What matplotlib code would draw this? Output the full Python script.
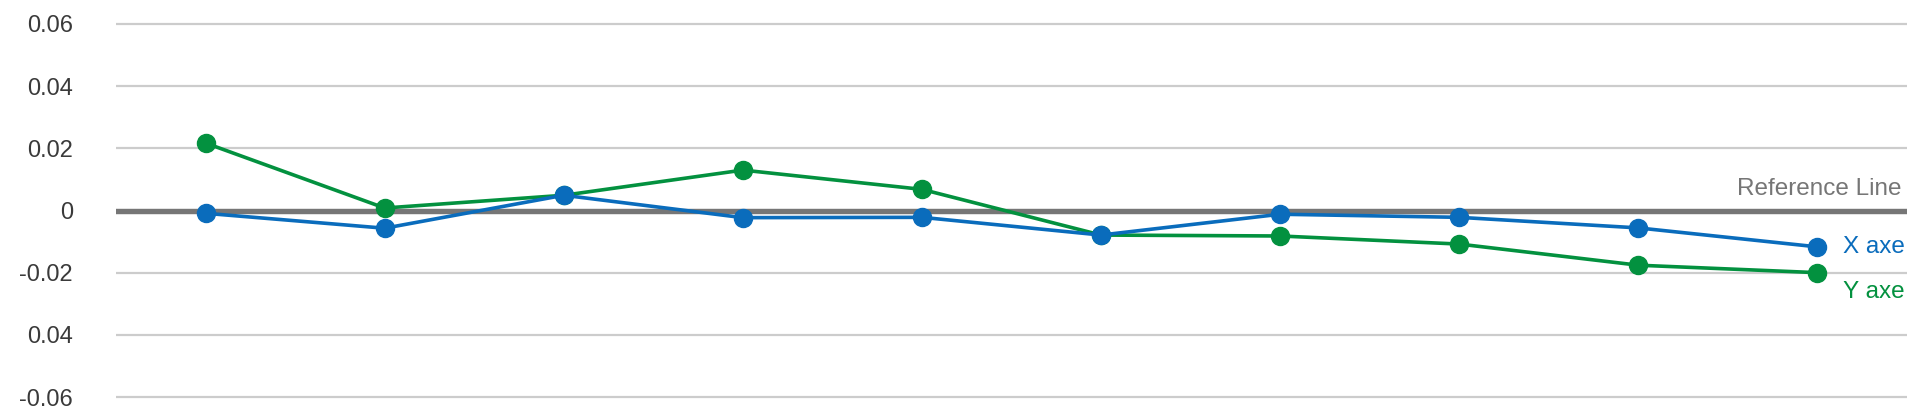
import matplotlib
matplotlib.use("Agg")
import matplotlib.pyplot as plt

plt.rcParams['font.family'] = ['Liberation Sans', 'DejaVu Sans']

# values
categories = list(range(10))
x_axe = [-0.0009, -0.0057, 0.0049, -0.0023, -0.0022, -0.0079, -0.0012, -0.0022, -0.0056, -0.0117]
y_axe = [0.0217, 0.0008, 0.0049, 0.0130, 0.0068, -0.0079, -0.0082, -0.0108, -0.0176, -0.0200]
tick_values = [0.06, 0.04, 0.02, 0, -0.02, -0.04, -0.06]
tick_labels = ['0.06', '0.04', '0.02', '0', '-0.02', '0.04', '-0.06']

blue = '#0a6cbc'
green = '#03913f'

W, H = 1923, 417
fig = plt.figure(figsize=(W / 100, H / 100), dpi=100)

# axes placed in pixels: gridline 0.06 at y=24, -0.06 at y=397, x from 116 to 1907
ylo, yhi = -0.063, 0.063
ppu = (397 - 24) / 0.12
top_px = 24 - (yhi - 0.06) * ppu
bot_px = 397 + (0.06 + ylo) * -ppu
ax = fig.add_axes([116 / W, 1 - bot_px / H, (1907 - 116) / W, (bot_px - top_px) / H])
ax.set_xlim(-0.5, len(categories) - 0.5)
ax.set_ylim(ylo, yhi)

for v in tick_values:
    if v != 0:
        ax.axhline(v, color='#cccccc', lw=1.6, zorder=1)
ax.axhline(0, color='#767676', lw=3.9, zorder=2)

ax.plot(categories, y_axe, color=green, lw=2.6, marker='o', ms=13, zorder=3)
ax.plot(categories, x_axe, color=blue, lw=2.6, marker='o', ms=13, zorder=4)

ax.text(len(categories) - 0.53, 0.005, 'Reference Line', color='#767676',
        fontsize=17.5, ha='right', va='baseline')
ax.text(categories[-1] + 0.14, x_axe[-1], 'X axe', color=blue, fontsize=17.5,
        ha='left', va='center')
ax.text(categories[-1] + 0.14, y_axe[-1] - 0.0062, 'Y axe', color=green, fontsize=17.5,
        ha='left', va='center')

ax.set_yticks(tick_values)
ax.set_yticklabels(tick_labels)
ax.set_xticks([])
ax.tick_params(axis='y', length=0, pad=31, labelsize=17, labelcolor='#3a3a3a')
for s in ax.spines.values():
    s.set_visible(False)

fig.savefig('out.png', dpi=100)
